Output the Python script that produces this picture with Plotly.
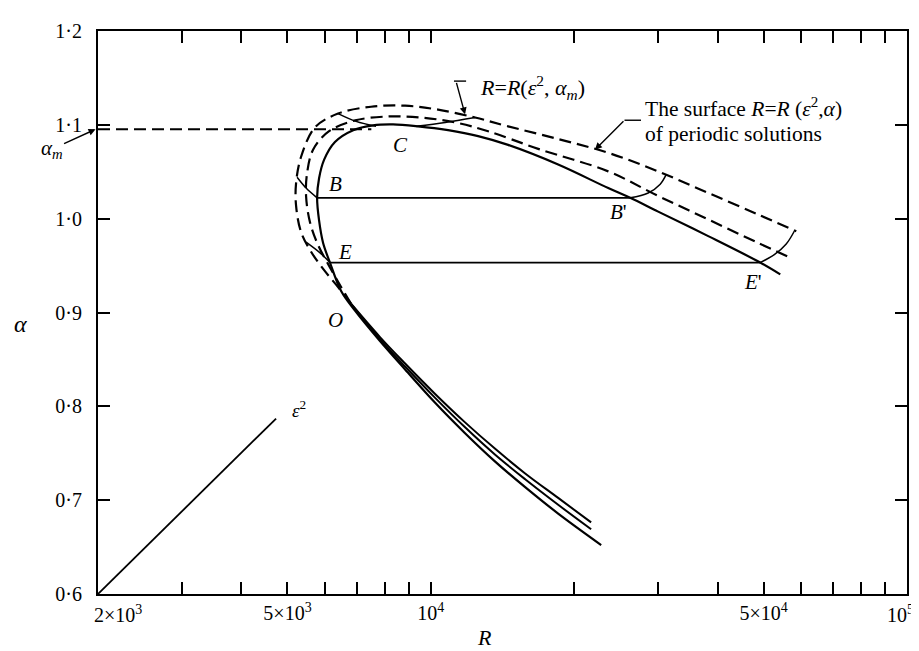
import plotly.graph_objects as go

# neutral curve (solid), lower end -> nose -> upper branch end
neutral_R = [22790, 18510, 15780, 13650, 11800, 10210, 8830, 7820, 6930, 6480, 6140,
             5940, 5825, 5770, 5825, 5970, 6290, 6870, 7560, 8330, 9400, 10870, 12570,
             14530, 18510, 23580, 26220, 30020, 38240, 49180, 54180]
neutral_alpha = [0.6522, 0.6857, 0.7139, 0.7411, 0.7714, 0.8038, 0.8393, 0.8696, 0.9020,
                 0.9229, 0.9532, 0.9741, 0.9981, 1.0222, 1.0431, 1.0629, 1.0817, 1.0943,
                 1.0995, 1.1005, 1.0984, 1.0943, 1.0880, 1.0786, 1.0577, 1.0326, 1.0222,
                 1.0075, 0.9814, 0.9532, 0.9406]

# lower-branch continuations of the two eps^2 contours (solid)
lower_R = [6800, 7820, 8830, 10210, 11800, 13650, 15780, 18510, 21710]
lower_mid_alpha = [0.9093, 0.8717, 0.8424, 0.8090, 0.7776, 0.7484, 0.7223, 0.6951, 0.6690]
lower_top_alpha = [0.9093, 0.8738, 0.8456, 0.8132, 0.7829, 0.7547, 0.7285, 0.7024, 0.6763]

# outer dashed contour
outer_R = [6800, 6386, 5998, 5604, 5340, 5212, 5212, 5340, 5714, 6386, 7490, 8832,
           10358, 12388, 14530, 18510, 23580, 30020, 38240, 48700, 58540]
outer_alpha = [0.9093, 0.9271, 0.9438, 0.9647, 0.9856, 1.0138, 1.0378, 1.0660, 1.0974,
               1.1120, 1.1193, 1.1204, 1.1162, 1.1078, 1.0984, 1.0849, 1.0702, 1.0504,
               1.0274, 1.0044, 0.9866]

# inner dashed contour
inner_R = [6800, 6480, 6140, 5796, 5576, 5470, 5496, 5658, 6114, 6934, 8134, 9540,
           11246, 13192, 16806, 23580, 30020, 38240, 48700, 56860]
inner_alpha = [0.9093, 0.9271, 0.9480, 0.9720, 0.9960, 1.0242, 1.0483, 1.0734, 1.0932,
               1.1047, 1.1089, 1.1078, 1.1026, 1.0932, 1.0744, 1.0504, 1.0242, 0.9992,
               0.9741, 0.9584]

# cross-section arcs
lens_left_R = [6386, 6966, 7674]
lens_left_alpha = [1.1120, 1.1037, 1.0984]
lens_right_R = [9314, 10720, 12388]
lens_right_alpha = [1.0984, 1.1026, 1.1078]
arc_B_R = [5770, 5470, 5238]
arc_B_alpha = [1.0222, 1.0326, 1.0441]
arc_E_R = [6140, 5854, 5470]
arc_E_alpha = [0.9532, 0.9636, 0.9751]
arc_Bp_R = [26220, 28600, 30320, 31220]
arc_Bp_alpha = [1.0222, 1.0274, 1.0368, 1.0472]
arc_Ep_R = [49180, 52640, 55760, 57980]
arc_Ep_alpha = [0.9532, 0.9616, 0.9730, 0.9866]

# horizontal sections and alpha_m
line_B_R = [5770, 26220]
alpha_B = 1.0222
line_E_R = [6140, 49180]
alpha_E = 0.9532
alpha_m_R = [2000, 7500]
alpha_m = 1.0953

# eps^2 direction
eps_R = [2000, 4732]
eps_alpha = [0.6, 0.787]

x_tickvals = [2000, 3000, 4000, 5000, 6000, 7000, 8000, 9000, 10000,
              20000, 30000, 40000, 50000, 60000, 70000, 80000, 90000, 100000]
x_ticktext = ["", "", "", "5×10<sup>3</sup>", "", "", "", "", "10<sup>4</sup>",
              "", "", "", "5×10<sup>4</sup>", "", "", "", "", ""]
y_tickvals = [0.6, 0.7, 0.8, 0.9, 1.0, 1.1, 1.2]
y_ticktext = ["0·6", "0·7", "0·8", "0·9", "1·0", "1·1", "1·2"]

SERIF = "Liberation Serif"
DASH = "12px,6px"

fig = go.Figure()


def add_line(xs, ys, width=2, dash="solid", spline=True):
    fig.add_trace(go.Scatter(
        x=xs, y=ys, mode="lines",
        line=dict(color="black", width=width, dash=dash,
                  shape="spline" if spline else "linear", smoothing=1.0),
        hoverinfo="skip", showlegend=False
    ))


add_line(neutral_R, neutral_alpha, 2.2)
add_line(lower_R, lower_mid_alpha, 2)
add_line(lower_R, lower_top_alpha, 2)
add_line(outer_R, outer_alpha, 2.2, DASH)
add_line(inner_R, inner_alpha, 2.2, DASH)
for xs, ys in [(lens_left_R, lens_left_alpha), (lens_right_R, lens_right_alpha),
               (arc_B_R, arc_B_alpha), (arc_E_R, arc_E_alpha),
               (arc_Bp_R, arc_Bp_alpha), (arc_Ep_R, arc_Ep_alpha)]:
    add_line(xs, ys, 1.5)
add_line(line_B_R, [alpha_B, alpha_B], 1.6, spline=False)
add_line(line_E_R, [alpha_E, alpha_E], 1.6, spline=False)
add_line(alpha_m_R, [alpha_m, alpha_m], 2, DASH, spline=False)
add_line(eps_R, eps_alpha, 1.8, spline=False)


def label(text, x, y, size=21, anchor="center"):
    fig.add_annotation(text=text, x=x, y=y, xref="paper", yref="paper",
                       showarrow=False, xanchor=anchor, yanchor="middle",
                       font=dict(family=SERIF, size=size, color="black"))


label("<i>B</i>", 0.294, 0.728)
label("<i>E</i>", 0.305, 0.608)
label("<i>O</i>", 0.293, 0.486)
label("<i>C</i>", 0.3745, 0.798)
label("<i>B</i>'", 0.643, 0.678)
label("<i>E</i>'", 0.810, 0.554)
label("<i>ε</i><sup>2</sup>", 0.249, 0.329, 19)
label("<i>R</i>=<i>R</i>(<i>ε</i><sup>2</sup>, <i>α</i><sub><i>m</i></sub>)", 0.4697, 0.899, 22, "left")
label("The surface <i>R</i>=<i>R</i> (<i>ε</i><sup>2</sup>,<i>α</i>)", 0.6737, 0.864, 21.5, "left")
label("of periodic solutions", 0.6737, 0.817, 21.5, "left")
label("2×10<sup>3</sup>", 0.0247, -0.036, 20)
label("10<sup>5</sup>", 1.011, -0.036, 20, "right")
label("<i>α</i>", -0.0964, 0.479, 24)
label("<i>R</i>", 0.478, -0.078, 22)

# leaders
fig.add_shape(type="line", xref="paper", yref="paper", x0=0.440, x1=0.455, y0=0.911, y1=0.911,
              line=dict(color="black", width=1.4))
fig.add_annotation(x=0.4537, y=0.852, xref="paper", yref="paper", text="", showarrow=True,
                   ax=-9, ay=-33, arrowhead=2, arrowsize=1, arrowwidth=1.4, arrowcolor="black")
fig.add_shape(type="line", xref="paper", yref="paper", x0=0.6508, x1=0.6712, y0=0.8415, y1=0.8415,
              line=dict(color="black", width=1.4))
fig.add_annotation(x=0.6143, y=0.7892, xref="paper", yref="paper", text="", showarrow=True,
                   ax=30, ay=-30, arrowhead=2, arrowsize=1, arrowwidth=1.4, arrowcolor="black")
fig.add_annotation(x=-0.003, y=alpha_m, xref="paper", yref="y",
                   text="<i>α</i><sub><i>m</i></sub>", showarrow=True, ax=-44, ay=20,
                   arrowhead=2, arrowsize=1, arrowwidth=1.4, arrowcolor="black",
                   font=dict(family=SERIF, size=21, color="black"))

axis_common = dict(
    showline=True, linecolor="black", linewidth=2.2, mirror="ticks",
    ticks="inside", ticklen=12, tickwidth=1.8, tickcolor="black",
    showgrid=False, zeroline=False,
    tickfont=dict(family=SERIF, size=20, color="black"),
)

fig.update_layout(
    width=919, height=651,
    margin=dict(l=90, r=20, t=12, b=65),
    paper_bgcolor="white", plot_bgcolor="white",
    xaxis=dict(type="log", range=[3.30103, 5.0], tickmode="array",
               tickvals=x_tickvals, ticktext=x_ticktext, **axis_common),
    yaxis=dict(range=[0.6, 1.2], tickmode="array", ticklabelstandoff=10,
               tickvals=y_tickvals, ticktext=y_ticktext, **axis_common),
    showlegend=False,
)

fig.write_html("out.html")
